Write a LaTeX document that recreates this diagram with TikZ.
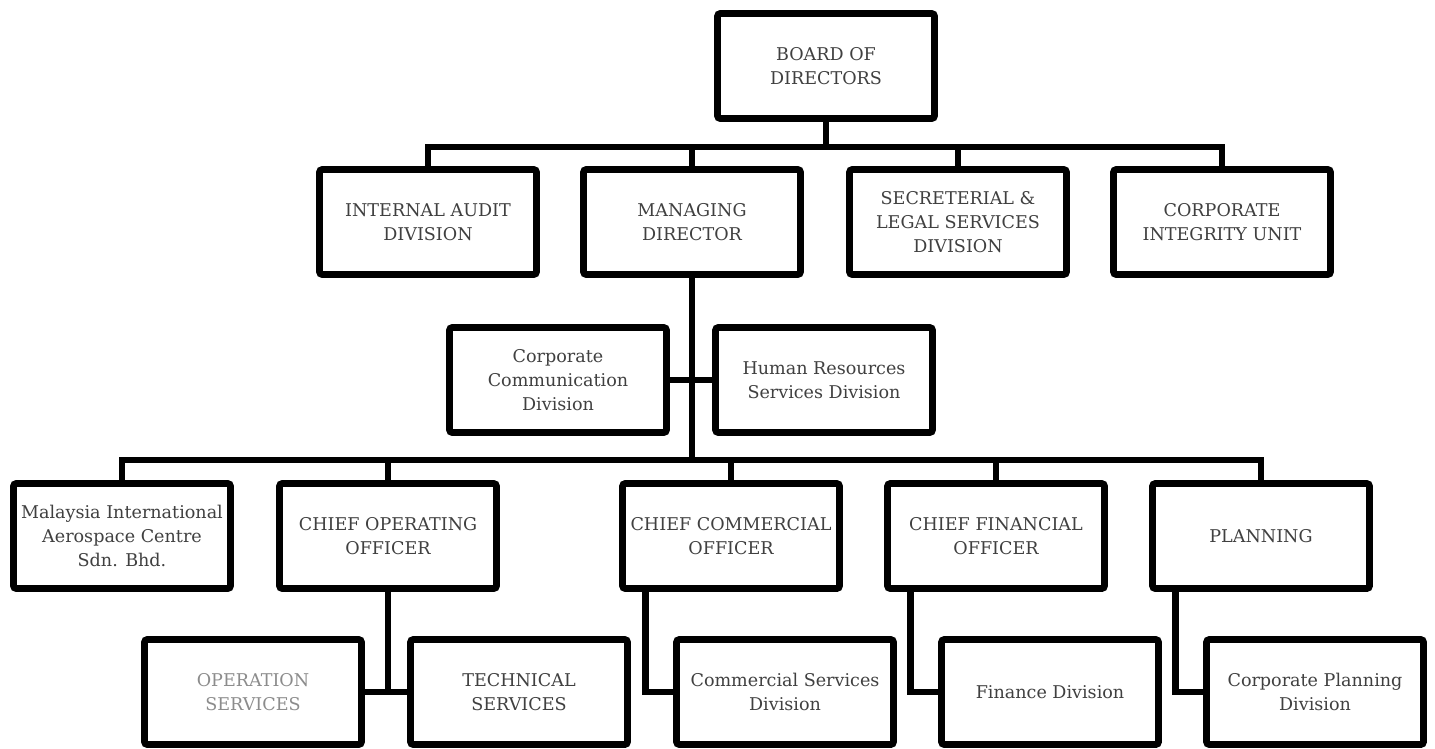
\documentclass[tikz,border=0pt]{standalone}
\usepackage{fontspec}
\setmainfont{DejaVu Serif}
\tikzstyle{obox}=[rectangle,draw=black,line width=3.8pt,rounded corners=1.5pt,minimum width=4.34cm,minimum height=2.1cm,align=center,text=black!75,font=\fontsize{10}{13.6}\selectfont,fill=white]
\tikzstyle{tree}=[line width=3.8pt]

\begin{document}
\begin{tikzpicture}[tree,x=0.02cm,y=-0.02cm]
\useasboundingbox (0,0) rectangle (1435,748);
% top two levels
\node[obox] (board) at (826,66) {BOARD OF\\DIRECTORS};
\node[obox] (audit) at (428,222) {INTERNAL AUDIT\\DIVISION};
\node[obox] (md) at (692,222) {MANAGING\\DIRECTOR};
\node[obox] (legal) at (958,222) {SECRETERIAL \&\\LEGAL SERVICES\\DIVISION};
\node[obox] (integrity) at (1222,222) {CORPORATE\\INTEGRITY UNIT};
\node[obox] (comm) at (558,380) {Corporate\\Communication\\Division};
\node[obox] (hr) at (824,380) {Human Resources\\Services Division};
% chiefs
\node[obox] (miac) at (122,536) {Malaysia International\\Aerospace Centre\\Sdn. Bhd.};
\node[obox] (coo) at (388,536) {CHIEF OPERATING\\OFFICER};
\node[obox] (cco) at (731,536) {CHIEF COMMERCIAL\\OFFICER};
\node[obox] (cfo) at (996,536) {CHIEF FINANCIAL\\OFFICER};
\node[obox] (plan) at (1261,536) {PLANNING};
% divisions
\node[obox,text=black!45] (ops) at (253,692) {OPERATION\\SERVICES};
\node[obox] (tech) at (519,692) {TECHNICAL\\SERVICES};
\node[obox] (csd) at (785,692) {Commercial Services\\Division};
\node[obox] (fin) at (1050,692) {Finance Division};
\node[obox] (cpd) at (1315,692) {Corporate Planning\\Division};
% connectors
\coordinate (bus1) at (826,147);
\coordinate (bus2) at (692,460);
\draw (board) -- (bus1);
\draw (audit.north) |- (bus1) -| (integrity.north);
\draw (md.north) -- (md.north |- bus1);
\draw (legal.north) -- (legal.north |- bus1);
\draw (md.south) -- (bus2);
\draw (comm.east) -- (hr.west);
\draw (miac.north) |- (bus2) -| (plan.north);
\draw (coo.north) -- (coo.north |- bus2);
\draw (cco.north) -- (cco.north |- bus2);
\draw (cfo.north) -- (cfo.north |- bus2);
\draw (coo.south) -- (coo.south |- ops.east);
\draw (ops.east) -- (tech.west);
\draw (cco.south west) ++(26,0) |- (csd.west);
\draw (cfo.south west) ++(26,0) |- (fin.west);
\draw (plan.south west) ++(26,0) |- (cpd.west);
\end{tikzpicture}
\end{document}
